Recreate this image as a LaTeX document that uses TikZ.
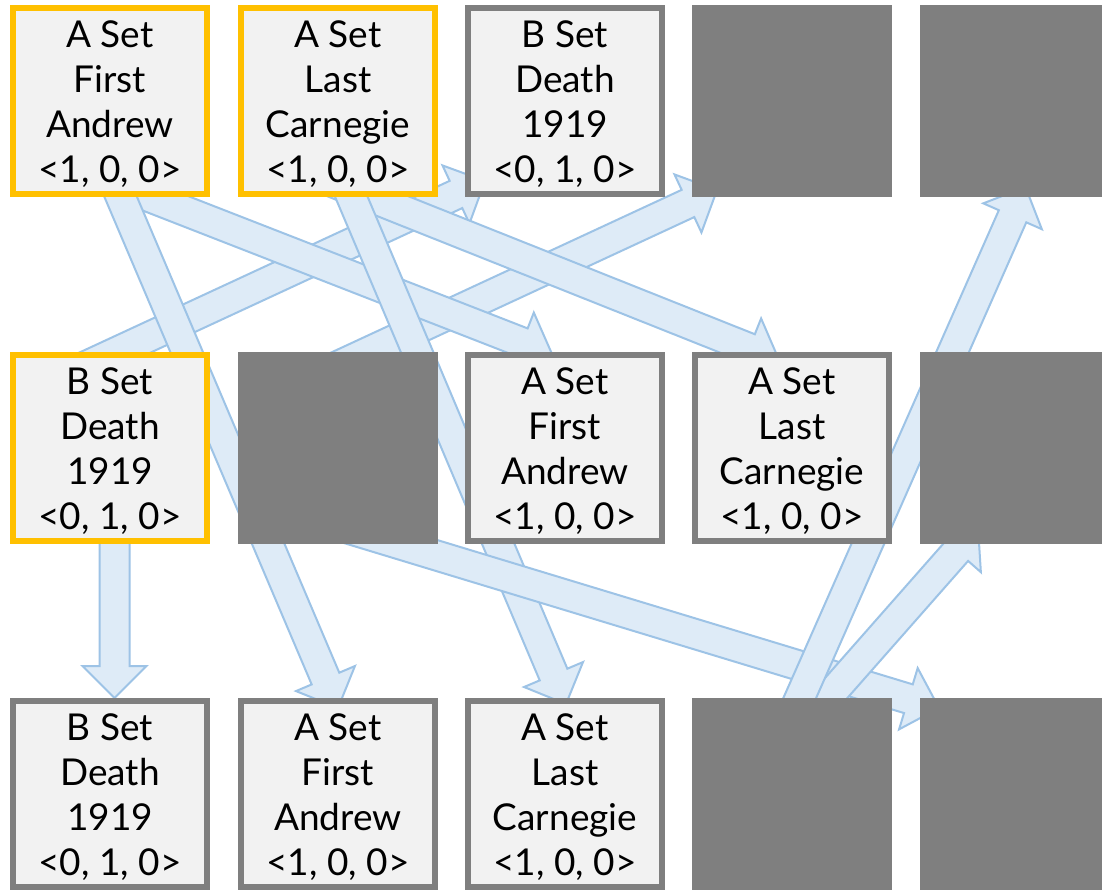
\documentclass[tikz,border=0pt]{standalone}
\usepackage{fontspec}
\setmainfont{Lato}
\usetikzlibrary{calc,backgrounds}
\definecolor{boxfill}{HTML}{F2F2F2}
\definecolor{boxgray}{HTML}{7F7F7F}
\definecolor{boxyellow}{HTML}{FFC000}
\definecolor{arrfill}{HTML}{DEEBF7}
\definecolor{arrline}{HTML}{9DC3E6}
\tikzset{
  cell/.style={rectangle, minimum width=194pt, minimum height=186pt, line width=6pt,
    inner sep=0pt, align=center, font=\fontsize{37}{45}\selectfont},
  lit/.style={cell, fill=boxfill, draw=boxgray},
  hot/.style={cell, fill=boxfill, draw=boxyellow},
  dark/.style={cell, fill=boxgray, draw=boxgray},
  barrow/.style={fill=arrfill, draw=arrline, line width=2pt, line join=miter},
}
\newcommand{\blockarrow}[2]{%
  \coordinate (ah) at ($(#2)!32pt!(#1)$);
  \draw[barrow] ($(#1)!15pt!90:(#2)$) -- ($(ah)!15pt!90:(#2)$) -- ($(ah)!32pt!90:(#2)$)
    -- (#2) -- ($(ah)!32pt!-90:(#2)$) -- ($(ah)!15pt!-90:(#2)$) -- ($(#1)!15pt!-90:(#2)$) -- cycle;}
\begin{document}
\begin{tikzpicture}[x=1pt, y=-1pt]
\useasboundingbox (0,0) rectangle (1102,889);
\clip (0,0) rectangle (1102,889);
% row 1
\node[hot]  (r1c1) at (110,101)   {\rule{0pt}{33pt}A Set\\First\\Andrew\\<1, 0, 0>};
\node[hot]  (r1c2) at (338,101)   {\rule{0pt}{33pt}A Set\\Last\\Carnegie\\<1, 0, 0>};
\node[lit]  (r1c3) at (565,101)   {\rule{0pt}{33pt}B Set\\Death\\1919\\<0, 1, 0>};
\node[dark] (r1c4) at (792,101)   {};
\node[dark] (r1c5) at (1019.5,101) {};
% row 2
\node[hot]  (r2c1) at (110,448)   {\rule{0pt}{33pt}B Set\\Death\\1919\\<0, 1, 0>};
\node[dark] (r2c2) at (338,448)   {};
\node[lit]  (r2c3) at (565,448)   {\rule{0pt}{33pt}A Set\\First\\Andrew\\<1, 0, 0>};
\node[lit]  (r2c4) at (792,448)   {\rule{0pt}{33pt}A Set\\Last\\Carnegie\\<1, 0, 0>};
\node[dark] (r2c5) at (1019.5,448) {};
% row 3
\node[lit]  (r3c1) at (110,794)   {\rule{0pt}{33pt}B Set\\Death\\1919\\<0, 1, 0>};
\node[lit]  (r3c2) at (338,794)   {\rule{0pt}{33pt}A Set\\First\\Andrew\\<1, 0, 0>};
\node[lit]  (r3c3) at (565,794)   {\rule{0pt}{33pt}A Set\\Last\\Carnegie\\<1, 0, 0>};
\node[dark] (r3c4) at (792,794)   {};
\node[dark] (r3c5) at (1019.5,794) {};
\begin{pgfonlayer}{background}
\fill[white] (0,0) rectangle (1102,889);
% tails and tips
\coordinate (t1)  at ($(r2c1.center)+(-65,-63)$);
\coordinate (p1)  at ($(r1c3.center)+(-80,80)$);
\coordinate (t2)  at ($(r2c2.center)+(-52,-58)$);
\coordinate (p2)  at ($(r1c4.center)+(-75,89)$);
\coordinate (t3)  at ($(r1c1.center)+(-30,69)$);
\coordinate (p3)  at ($(r2c3.center)+(-13,-94)$);
\coordinate (t4)  at ($(r1c2.center)+(-36,69)$);
\coordinate (p4)  at ($(r2c4.center)+(-13,-88)$);
\coordinate (t5)  at ($(r1c1.center)+(-5,59)$);
\coordinate (p5)  at ($(r3c2.center)+(0,-86)$);
\coordinate (t6)  at ($(r1c2.center)+(2,69)$);
\coordinate (p6)  at ($(r3c3.center)+(1,-90)$);
\coordinate (t7)  at ($(r2c1.center)+(4.5,0)$);
\coordinate (p7)  at ($(r3c1.center)+(4.5,-96)$);
\coordinate (t8)  at ($(r2c2.center)+(-48,63)$);
\coordinate (p8)  at ($(r3c5.center)+(-80.5,-86)$);
\coordinate (t9)  at ($(r3c4.center)+(16,-74)$);
\coordinate (p9)  at ($(r2c5.center)+(-41.5,79)$);
\coordinate (t10) at ($(r3c4.center)+(-2,-74)$);
\coordinate (p10) at ($(r1c5.center)+(6,86)$);
\blockarrow{t1}{p1}
\blockarrow{t2}{p2}
\blockarrow{t3}{p3}
\blockarrow{t4}{p4}
\blockarrow{t5}{p5}
\blockarrow{t6}{p6}
\blockarrow{t7}{p7}
\blockarrow{t8}{p8}
\blockarrow{t9}{p9}
\blockarrow{t10}{p10}
\end{pgfonlayer}
\end{tikzpicture}
\end{document}
